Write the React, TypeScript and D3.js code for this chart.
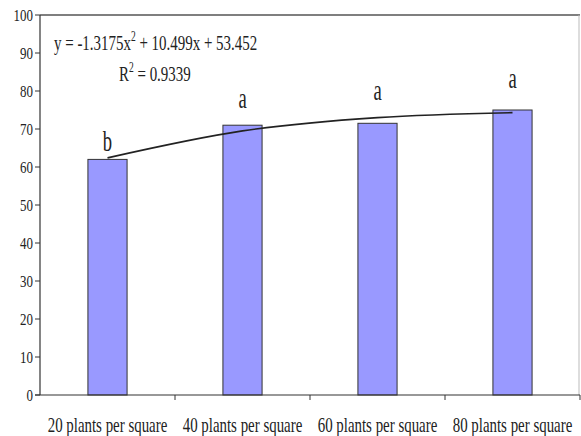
import React from "react";
import * as d3 from "d3";

const categories = ["20 plants per square", "40 plants per square", "60 plants per square", "80 plants per square"];
const values = [62, 71, 71.5, 75];
const trendValues = [62.4, 69.5, 73.0, 74.3];
const letters = ["b", "a", "a", "a"];
const letterValues = [64.2, 75.5, 77.6, 80.8];
const yTicks = [0, 10, 20, 30, 40, 50, 60, 70, 80, 90, 100];
const equation = "y = -1.3175x";
const equationRest = " + 10.499x + 53.452";
const rSquared = "0.9339";

const W = 581;
const H = 436;
const margin = { left: 40, right: 1, top: 15, bottom: 41 };
const FONT = "Liberation Serif, Times New Roman, DejaVu Serif, serif";
const TXT = "#222";

export default function App() {
  const x = d3
    .scaleBand<string>()
    .domain(categories)
    .range([margin.left, W - margin.right])
    .paddingInner(0)
    .paddingOuter(0);
  const y = d3.scaleLinear().domain([0, 100]).range([H - margin.bottom, margin.top]);
  const bw = x.bandwidth() * 0.29;
  const cx = (c: string) => (x(c) as number) + x.bandwidth() / 2;

  const line = d3
    .line<number>()
    .x((_, i) => cx(categories[i]))
    .y((d) => y(d))
    .curve(d3.curveMonotoneX);

  const x0 = margin.left;
  const x1 = W - margin.right;
  const yb = y(0);
  const yt = y(100);

  const sx = (px: number, py: number, s: number) => `translate(${px},${py}) scale(${s},1)`;
  const ts = { fontFamily: FONT };

  return (
    <svg
      width={W}
      height={H}
      style={{ position: "absolute", left: 0, top: 0, background: "#fff", fontFamily: FONT }}
    >
      <rect x={0} y={0} width={W} height={H} fill="#fff" />
      {/* frame */}
      <line x1={x0} x2={x1} y1={yt} y2={yt} stroke="#555" strokeWidth={1.5} />
      <line x1={x1 - 1} x2={x1 - 1} y1={yt} y2={yb} stroke="#bbb" strokeWidth={1} />
      {/* bars */}
      {categories.map((c, i) => (
        <rect
          key={c}
          x={cx(c) - bw / 2}
          y={y(values[i])}
          width={bw}
          height={yb - y(values[i])}
          fill="#9999FF"
          stroke="#333"
          strokeWidth={1}
        />
      ))}
      {/* trend line */}
      <path d={line(trendValues) || ""} fill="none" stroke="#222" strokeWidth={1.6} />
      {/* axes */}
      <line x1={x0} x2={x0} y1={yt} y2={yb} stroke="#333" strokeWidth={1.2} />
      <line x1={x0 - 5} x2={x1} y1={yb} y2={yb} stroke="#333" strokeWidth={1.2} />
      {yTicks.map((t) => (
        <g key={t}>
          <line x1={x0 - 5} x2={x0} y1={y(t)} y2={y(t)} stroke="#333" strokeWidth={1} />
          <text
            transform={sx(x0 - 7, y(t) + 6, 0.74)}
            textAnchor="end"
            fontSize={17.5}
            fill={TXT}
            style={ts}
          >
            {t}
          </text>
        </g>
      ))}
      {categories.map((c, i) => (
        <line
          key={"xt" + i}
          x1={(x(c) as number) + x.bandwidth()}
          x2={(x(c) as number) + x.bandwidth()}
          y1={yb}
          y2={yb + 5}
          stroke="#333"
          strokeWidth={1}
        />
      ))}
      {categories.map((c) => (
        <text
          key={"xl" + c}
          transform={sx(cx(c), yb + 37, 0.71)}
          textAnchor="middle"
          fontSize={21}
          fill={TXT}
          style={ts}
        >
          {c}
        </text>
      ))}
      {/* significance letters */}
      {categories.map((c, i) => (
        <text
          key={"lt" + i}
          transform={sx(cx(c), y(letterValues[i]), 0.62)}
          textAnchor="middle"
          fontSize={30}
          fill={TXT}
          style={ts}
        >
          {letters[i]}
        </text>
      ))}
      {/* equation */}
      <text transform={sx(54, 50, 0.68)} fontSize={22} fill={TXT} style={ts}>
        <tspan>{equation}</tspan>
        <tspan fontSize={14} dy={-9}>2</tspan>
        <tspan dy={9}>{equationRest}</tspan>
      </text>
      <text transform={sx(119, 81, 0.68)} fontSize={22} fill={TXT} style={ts}>
        <tspan>R</tspan>
        <tspan fontSize={14} dy={-9}>2</tspan>
        <tspan dy={9}>{" = " + rSquared}</tspan>
      </text>
    </svg>
  );
}
